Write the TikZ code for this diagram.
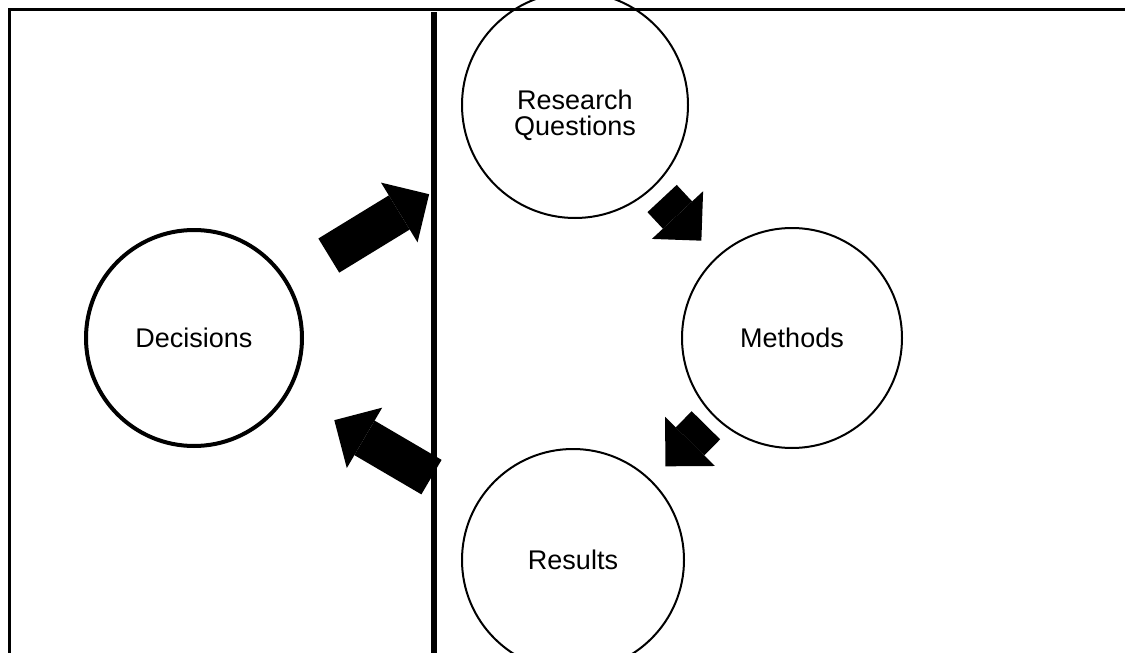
\documentclass[tikz,border=0pt]{standalone}
\usepackage{fontspec}
\setmainfont{Liberation Sans}
\usepackage{tikz}
\usetikzlibrary{arrows.meta}
\usetikzlibrary{positioning}

\tikzset{
  stage/.style={circle,draw,line width=1pt,minimum size=113pt,inner sep=0pt,
                align=center,font=\fontsize{13.5}{13}\selectfont},
  fat/.style={line width=20pt,-{Triangle[width=35pt,length=17.5pt,line width=0pt]}}
}

\begin{document}
\begin{tikzpicture}[x=0.5pt,y=-0.5pt]
  \useasboundingbox (0,0) rectangle (1125,653);

  % frame and divider
  \draw[line width=1.5pt] (9,653) -- (9,9) -- (1125,9);
  \draw[line width=2.8pt] (434,12) -- (434,653);

  \node[stage,line width=2pt,minimum size=108pt] (dec) at (194,338) {Decisions};
  \node[stage,label={[stage,draw=none,yshift=-5pt]center:Research\\Questions}]
                                  (rq)  at (575,105) {};
  \node[stage,minimum size=110pt] (met) at (792,338) {Methods};
  \node[stage,minimum size=111pt] (res) at (573,560) {Results};

  \path[fat] (dec) edge [shorten <=24pt,   shorten >=28.5pt] (rq)
             (rq)  edge [shorten <=6.9pt,  shorten >=11pt]   (met)
             (met) edge [shorten <=5.8pt,  shorten >=9.8pt]  (res)
             (res) edge [shorten <=26pt,   shorten >=26.3pt] (dec);
\end{tikzpicture}
\end{document}
